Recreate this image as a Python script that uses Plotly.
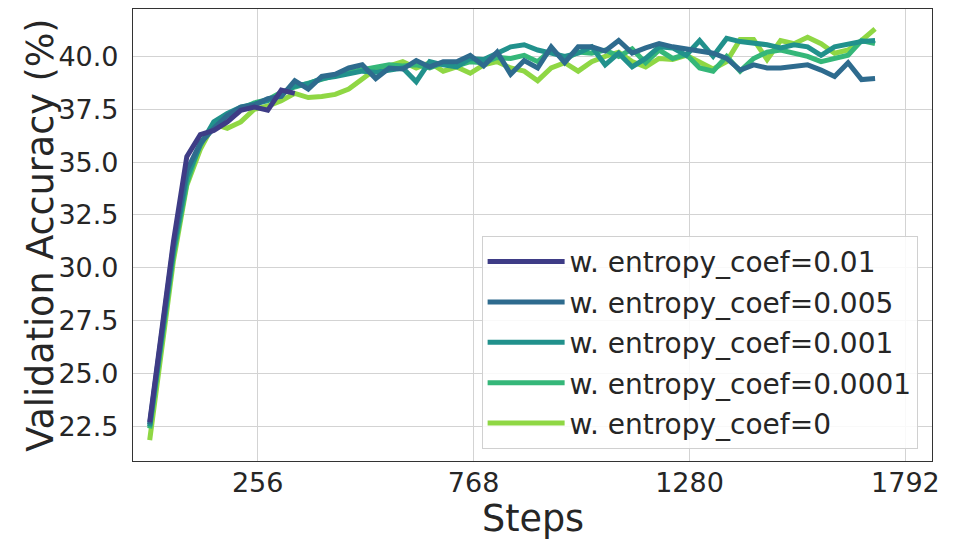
import plotly.graph_objects as go

# Training steps at which validation accuracy was evaluated
steps = [0, 56] + list(range(88, 1721, 32))
steps_short = steps[:11]

# Validation accuracy (%) per entropy coefficient
acc_coef_0_01 = [22.7, 31.2, 35.26, 36.3, 36.5, 36.9, 37.45, 37.6, 37.45, 38.4, 38.25]

acc_coef_0_005 = [22.6, 31.0, 34.6, 35.9, 36.6, 37.2, 37.6, 37.7, 38.0, 38.1,
                  38.85, 38.45, 39.05, 39.15, 39.45, 39.6, 38.95, 39.45, 39.4, 39.8,
                  39.5, 39.75, 39.75, 40.05, 39.55, 40.2, 39.15, 39.8, 39.45, 40.45,
                  39.7, 40.45, 40.45, 40.25, 40.75, 40.15, 40.4, 40.6, 40.45, 40.35,
                  40.3, 40.15, 39.9, 39.35, 39.6, 39.45, 39.45, 39.5, 39.6, 39.35,
                  39.05, 39.7, 38.9, 38.95]

acc_coef_0_001 = [22.5, 30.8, 34.3, 35.8, 36.9, 37.3, 37.6, 37.75, 37.9, 38.2,
                  38.6, 38.7, 38.95, 39.05, 39.2, 39.3, 39.25, 39.35, 39.45, 38.8,
                  39.75, 39.6, 39.5, 39.9, 39.85, 40.15, 40.45, 40.55, 40.3, 40.15,
                  40.0, 40.15, 40.45, 39.6, 40.15, 39.5, 39.9, 40.45, 40.4, 40.05,
                  40.75, 40.0, 40.85, 40.7, 40.65, 40.55, 40.4, 40.55, 40.45, 40.05,
                  40.45, 40.6, 40.7, 40.75]

acc_coef_0_0001 = [22.4, 30.6, 34.0, 35.9, 36.7, 37.2, 37.5, 37.8, 37.95, 38.3,
                   38.55, 38.75, 38.9, 39.1, 39.25, 39.35, 39.5, 39.6, 39.55, 39.6,
                   39.45, 39.7, 39.55, 39.75, 39.7, 39.95, 39.9, 40.05, 39.75, 40.3,
                   39.85, 40.2, 40.15, 40.3, 40.0, 40.35, 39.7, 40.3, 39.9, 40.1,
                   39.45, 39.3, 40.0, 39.3, 39.9, 40.2, 40.3, 40.15, 40.0, 39.75,
                   39.9, 40.05, 40.75, 40.6]

acc_coef_0 = [21.85, 30.3, 33.9, 35.6, 36.8, 36.6, 36.9, 37.5, 37.65, 37.9,
              38.25, 38.05, 38.1, 38.2, 38.45, 38.95, 39.4, 39.55, 39.75, 39.45,
              39.7, 39.3, 39.5, 39.2, 39.6, 39.75, 39.45, 39.3, 38.85, 39.45,
              39.7, 39.3, 39.75, 40.0, 40.2, 39.75, 39.5, 39.9, 39.85, 40.05,
              39.75, 39.4, 39.75, 40.8, 40.8, 39.85, 40.75, 40.6, 40.9, 40.6,
              40.15, 40.3, 40.75, 41.3]

labels = ["w. entropy_coef=0.01", "w. entropy_coef=0.005", "w. entropy_coef=0.001",
          "w. entropy_coef=0.0001", "w. entropy_coef=0"]
colors = ["#3e3c86", "#2e6b8e", "#21918c", "#35b779", "#8fd744"]
series = [(steps_short, acc_coef_0_01), (steps, acc_coef_0_005), (steps, acc_coef_0_001),
          (steps, acc_coef_0_0001), (steps, acc_coef_0)]

x_ticks = [256, 768, 1280, 1792]
y_ticks = [22.5, 25.0, 27.5, 30.0, 32.5, 35.0, 37.5, 40.0]

FONT = "DejaVu Sans"
TXT = "#262626"
TITLE_FONT = dict(family=FONT, size=36.5, color=TXT)

fig = go.Figure()
# draw the smallest coefficient first so the larger ones sit on top;
# legendrank keeps the legend listed from the largest coefficient down
for i in reversed(range(len(labels))):
    xs, ys = series[i]
    fig.add_trace(go.Scatter(
        x=xs, y=ys, mode="lines", name=labels[i], legendgroup=f"g{i}",
        legendrank=i + 1,
        line=dict(color=colors[i], width=5),
    ))

# axis titles placed as paper-anchored annotations
fig.add_annotation(text="Steps", xref="paper", yref="paper", x=0.5, y=-0.1265,
                   xanchor="center", yanchor="middle", showarrow=False, font=TITLE_FONT)
fig.add_annotation(text="Validation Accuracy (%)", xref="paper", yref="paper",
                   x=-0.1168, y=0.5, xanchor="center", yanchor="middle",
                   textangle=-90, showarrow=False, font=TITLE_FONT)

fig.update_layout(
    width=955, height=539,
    margin=dict(l=133, r=23, t=9, b=78),
    plot_bgcolor="white", paper_bgcolor="white",
    font=dict(family=FONT, color=TXT),
    showlegend=True,
    legend=dict(
        x=0.982, xanchor="right", y=0.027, yanchor="bottom",
        traceorder="grouped", tracegroupgap=1,
        font=dict(family=FONT, size=28, color=TXT),
        bgcolor="rgba(255,255,255,0.85)", bordercolor="#d0d0d0", borderwidth=1,
        itemwidth=77,
    ),
    xaxis=dict(
        range=[-39.6, 1855], tickvals=x_ticks, ticktext=[str(v) for v in x_ticks],
        showgrid=True, gridcolor="#d3d3d3", gridwidth=1.2, zeroline=False,
        showline=True, mirror=True, linecolor="#333333", linewidth=1.2,
        ticks="", ticklabelstandoff=-3, automargin=False,
        tickfont=dict(family=FONT, size=27, color=TXT),
    ),
    yaxis=dict(
        range=[20.86, 42.24], tickvals=y_ticks, ticktext=[f"{v:.1f}" for v in y_ticks],
        showgrid=True, gridcolor="#d3d3d3", gridwidth=1.2, zeroline=False,
        showline=True, mirror=True, linecolor="#333333", linewidth=1.2,
        ticks="", ticklabelstandoff=8, automargin=False,
        tickfont=dict(family=FONT, size=27, color=TXT),
    ),
)

fig.write_html("out.html")
